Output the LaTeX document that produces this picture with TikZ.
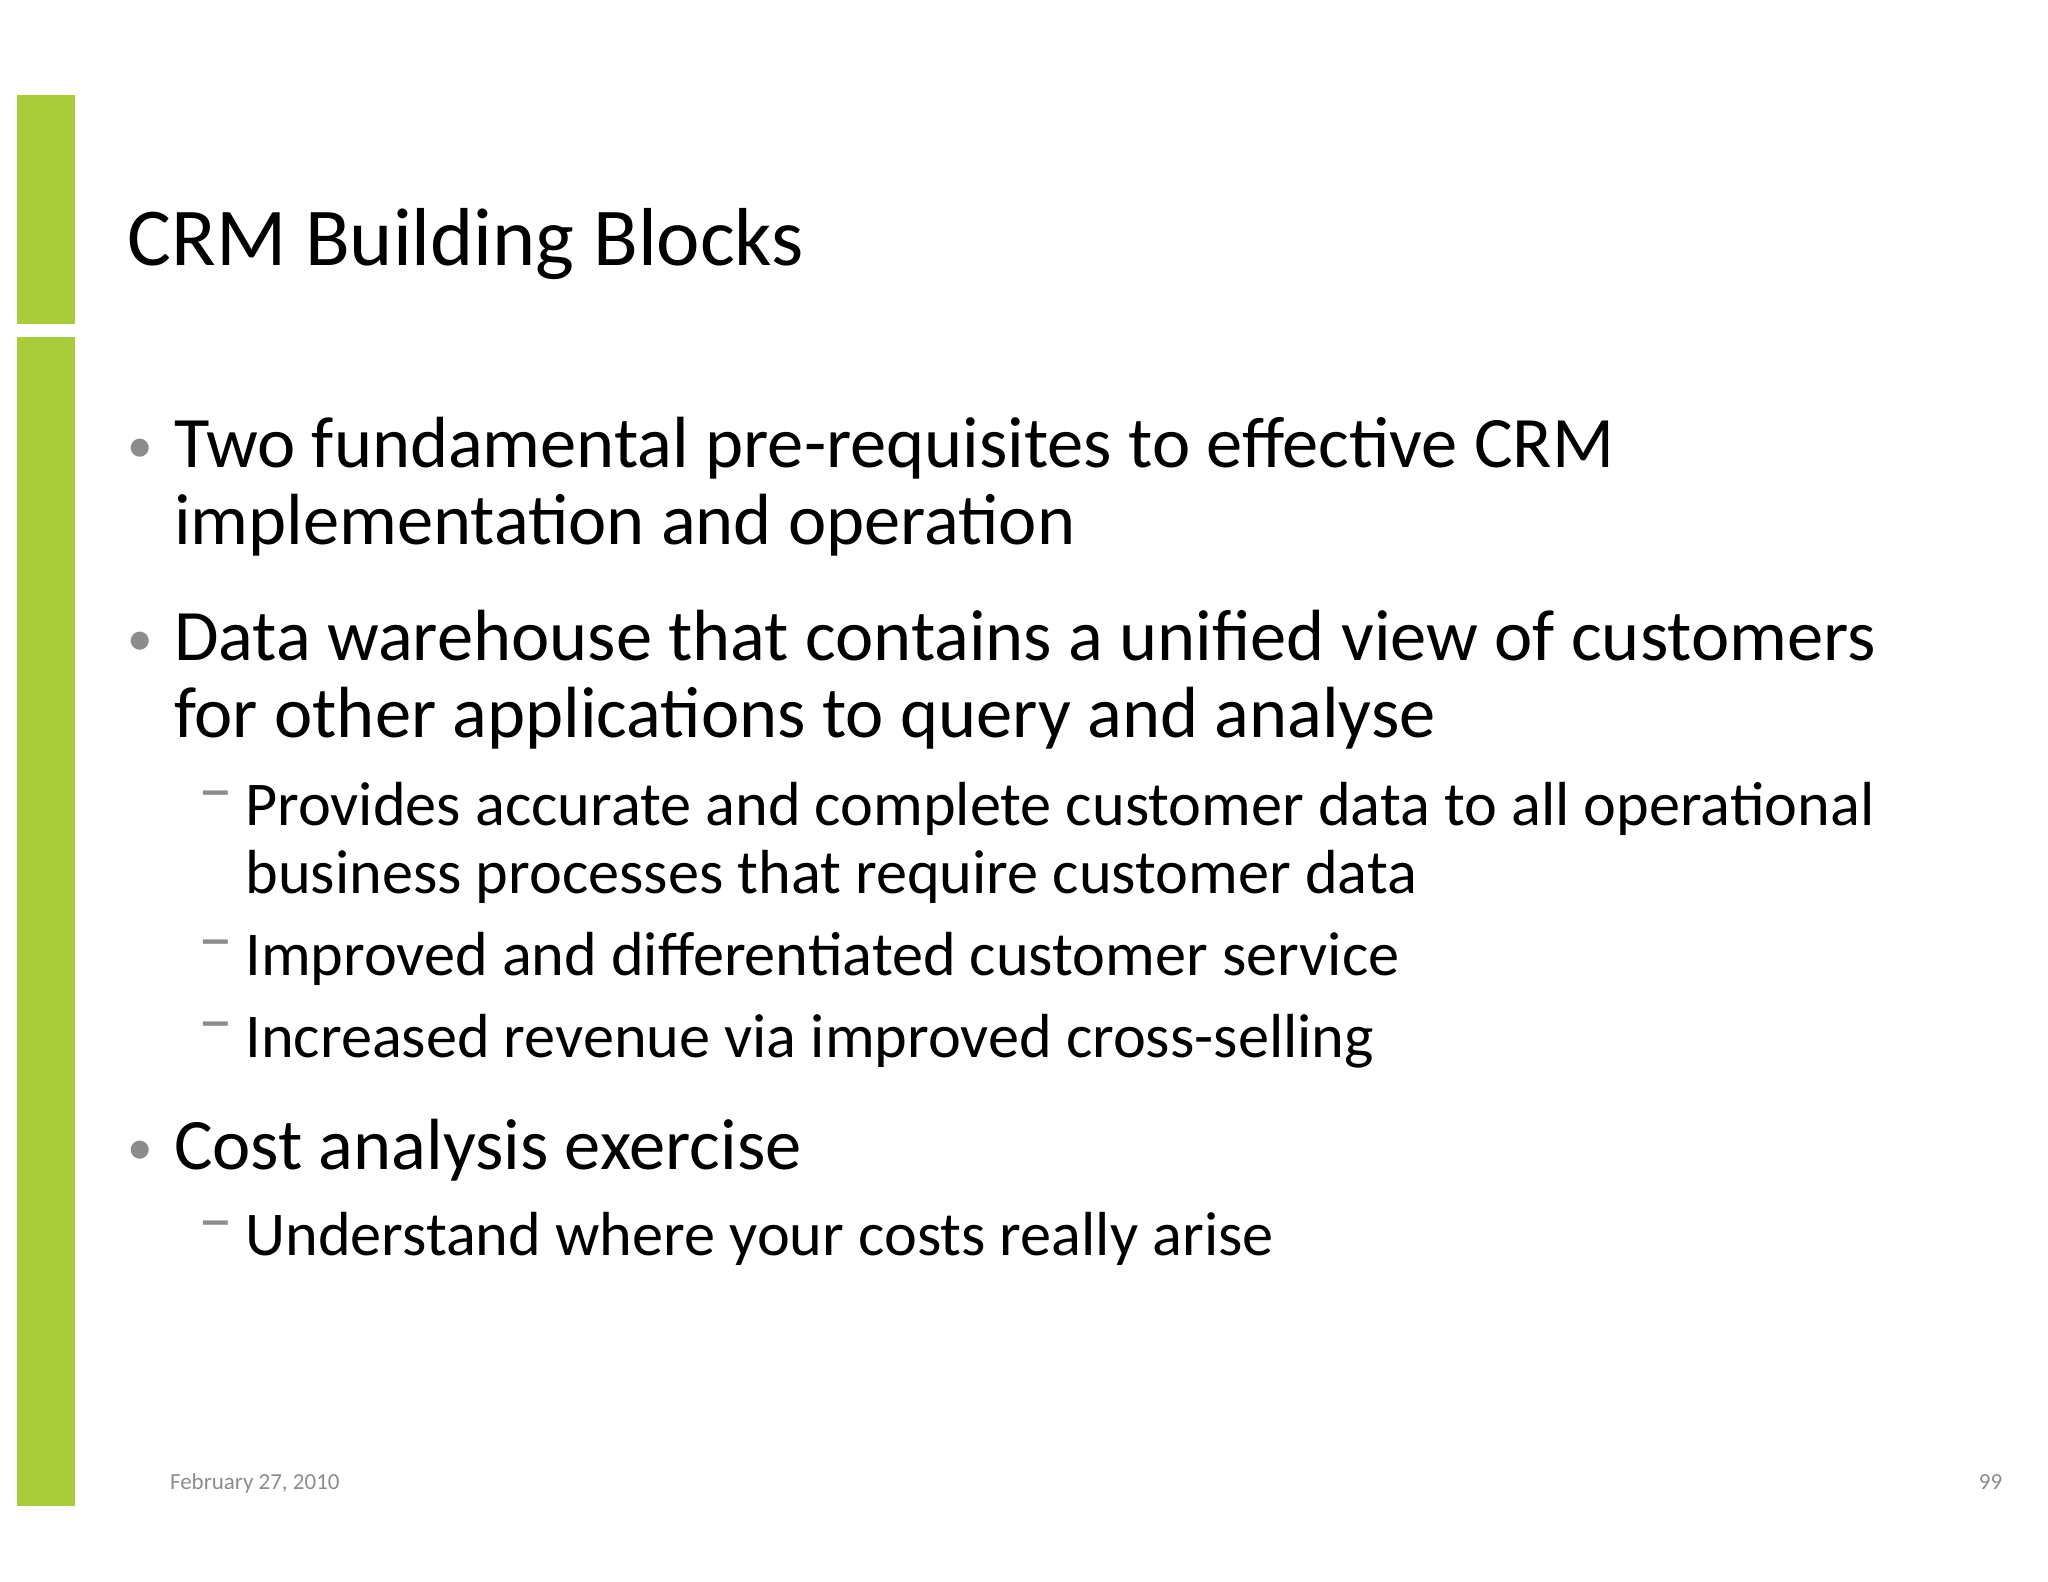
\documentclass[tikz,border=0pt]{standalone}
\usepackage{fontspec}
\setmainfont{Carlito}
\usetikzlibrary{positioning}
\definecolor{barGreen}{HTML}{A8CC3A}
\definecolor{markGrey}{HTML}{8C8C8C}
\tikzset{
  para/.style={anchor=base west, inner sep=0pt},
  lvlone/.style={para, font=\fontsize{15.6}{16}\selectfont},
  lvltwo/.style={para, font=\fontsize{13.4}{14}\selectfont},
  dotmark/.style={anchor=base, inner sep=0pt, text=markGrey, font=\fontsize{11}{12}\selectfont},
  dashmark/.style={anchor=base, inner sep=0pt, text=markGrey, font=\fontsize{15}{15}\selectfont}
}
\begin{document}
\begin{tikzpicture}[x=0.01cm,y=-0.01cm]
\useasboundingbox (0,0) rectangle (1550,1197);

% side bars
\fill [barGreen] (13,72) rectangle (57,245);
\fill [barGreen] (13,255) rectangle (57,1140);

% title
\node [para, font=\fontsize{17.7}{18}\selectfont] (title) at (96,201) {CRM Building Blocks};

% bullets
\node [dotmark] (b1) at (106,350) {•};
\node [lvlone] (two) at (131,354) {Two fundamental pre-requisites to effective CRM};
\node [lvlone] (twob) at (131,412) {implementation and operation};
\node [dotmark] (b2) at (106,496) {•};
\node [lvlone] (dwh) at (131,500) {Data warehouse that contains a unified view of customers};
\node [lvlone] (dwhb) at (131,558) {for other applications to query and analyse};
\node [dashmark] (d1) at (163,615) {–};
\node [lvltwo] (prov) at (185,625) {Provides accurate and complete customer data to all operational};
\node [lvltwo] (provb) at (185,676) {business processes that require customer data};
\node [dashmark] (d2) at (163,728) {–};
\node [lvltwo] (serv) at (185,738) {Improved and differentiated customer service};
\node [dashmark] (d3) at (163,790) {–};
\node [lvltwo] (rev) at (185,800) {Increased revenue via improved cross-selling};
\node [dotmark] (b3) at (106,881) {•};
\node [lvlone] (cost) at (131,885) {Cost analysis exercise};
\node [dashmark] (d4) at (163,940) {–};
\node [lvltwo] (undr) at (185,950) {Understand where your costs really arise};

% footer
\node [para, text=markGrey, font=\fontsize{4.95}{6}\selectfont] (date) at (128,1127) {February 27, 2010};
\node [anchor=base east, inner sep=0pt, text=markGrey, font=\fontsize{4.95}{6}\selectfont] (page) at (1516,1127) {99};
\end{tikzpicture}
\end{document}
